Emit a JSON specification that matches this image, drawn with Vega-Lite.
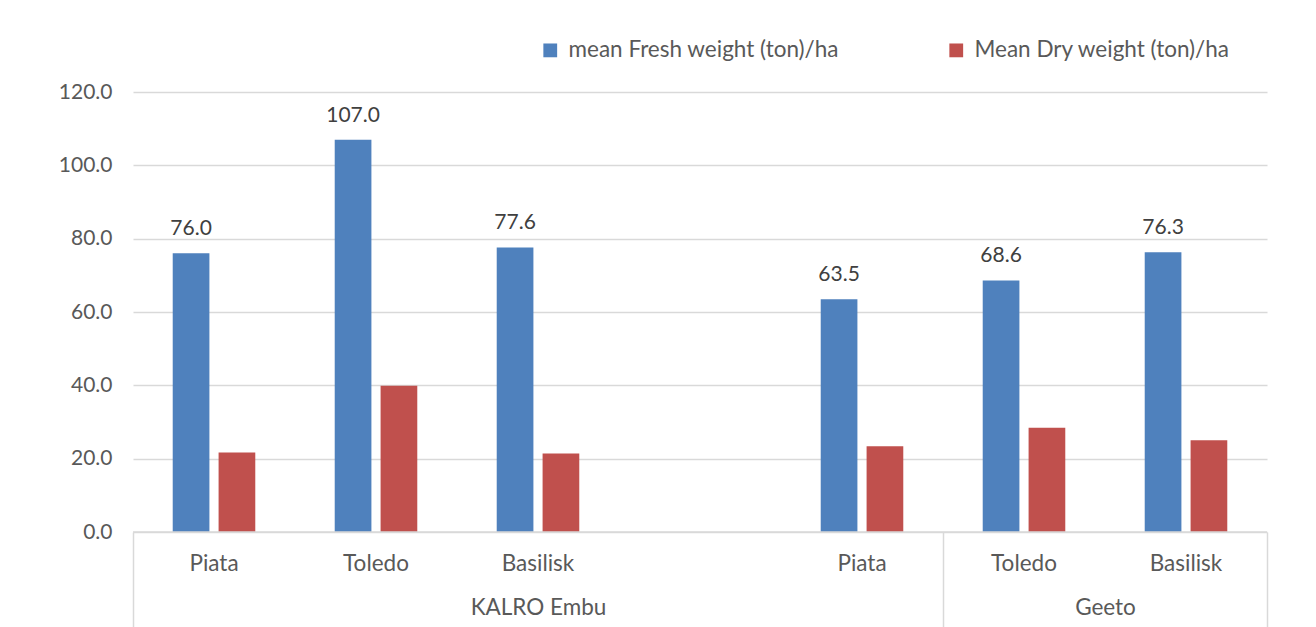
{
  "$schema": "https://vega.github.io/schema/vega-lite/v6.json",
  "width": 1134,
  "height": 440,
  "autosize": {"type": "none"},
  "padding": {"left": 133, "top": 92, "right": 49, "bottom": 95},
  "background": "white",
  "config": {
    "font": "Lato",
    "view": {"stroke": null},
    "axis": {"labelFont": "Lato", "labelColor": "#595959", "labelFontSize": 21}
  },
  "datasets": {
    "bars": [
      {"slot": "1|Piata", "series": "mean Fresh weight (ton)/ha", "value": 76.0},
      {"slot": "1|Piata", "series": "Mean Dry weight (ton)/ha", "value": 21.7},
      {"slot": "2|Toledo", "series": "mean Fresh weight (ton)/ha", "value": 107.0},
      {"slot": "2|Toledo", "series": "Mean Dry weight (ton)/ha", "value": 39.9},
      {"slot": "3|Basilisk", "series": "mean Fresh weight (ton)/ha", "value": 77.6},
      {"slot": "3|Basilisk", "series": "Mean Dry weight (ton)/ha", "value": 21.4},
      {"slot": "5|Piata", "series": "mean Fresh weight (ton)/ha", "value": 63.5},
      {"slot": "5|Piata", "series": "Mean Dry weight (ton)/ha", "value": 23.4},
      {"slot": "6|Toledo", "series": "mean Fresh weight (ton)/ha", "value": 68.6},
      {"slot": "6|Toledo", "series": "Mean Dry weight (ton)/ha", "value": 28.4},
      {"slot": "7|Basilisk", "series": "mean Fresh weight (ton)/ha", "value": 76.3},
      {"slot": "7|Basilisk", "series": "Mean Dry weight (ton)/ha", "value": 25.0}
    ],
    "groups": [
      {"group": "KALRO Embu", "start": 0, "end": 5},
      {"group": "Geeto", "start": 5, "end": 7}
    ]
  },
  "layer": [
    {
      "data": {"name": "bars"},
      "encoding": {
        "x": {
          "field": "slot", "type": "nominal",
          "scale": {"domain": ["1|Piata", "2|Toledo", "3|Basilisk", "4|", "5|Piata", "6|Toledo", "7|Basilisk"], "paddingInner": 0, "paddingOuter": 0},
          "axis": {"orient": "bottom", "title": null, "labelAngle": 0, "labelExpr": "split(datum.label, '|')[1]", "ticks": false, "tickSize": 0, "domain": false, "labelPadding": 31, "labelBaseline": "middle", "labelFontSize": 22.5, "grid": false}
        },
        "xOffset": {
          "field": "series", "type": "nominal",
          "scale": {"domain": ["mean Fresh weight (ton)/ha", "Mean Dry weight (ton)/ha"], "paddingInner": 0.2, "paddingOuter": 0.866}
        },
        "y": {
          "field": "value", "type": "quantitative",
          "scale": {"domain": [0, 120], "nice": false},
          "axis": {"title": null, "values": [0, 20, 40, 60, 80, 100, 120], "format": ".1f", "domain": false, "ticks": false, "tickSize": 0, "labelPadding": 21, "gridColor": "#d9d9d9", "gridWidth": 1.5}
        }
      },
      "layer": [
        {
          "mark": {"type": "bar"},
          "encoding": {
            "color": {
              "field": "series", "type": "nominal",
              "scale": {"domain": ["mean Fresh weight (ton)/ha", "Mean Dry weight (ton)/ha"], "range": ["#4f81bd", "#c0504d"]},
              "legend": {
                "title": null, "orient": "none", "legendX": 406, "legendY": -53,
                "direction": "horizontal", "symbolType": "square", "symbolSize": 190,
                "symbolStrokeWidth": 0, "labelFont": "Lato", "labelFontSize": 22.5, "labelColor": "#595959",
                "labelOffset": 7, "columnPadding": 106, "padding": 0, "labelLimit": 400
              }
            }
          }
        },
        {
          "transform": [{"filter": "datum.series == 'mean Fresh weight (ton)/ha'"}],
          "mark": {"type": "text", "font": "Lato", "fontSize": 21, "color": "#404040", "baseline": "alphabetic", "dy": -18},
          "encoding": {
            "text": {"field": "value", "type": "quantitative", "format": ".1f"}
          }
        }
      ]
    },
    {
      "data": {"name": "groups"},
      "mark": {"type": "rule", "color": "#d9d9d9", "strokeWidth": 1.5},
      "encoding": {
        "x": {
          "field": "start", "type": "quantitative",
          "scale": {"domain": [0, 7], "nice": false, "zero": false},
          "axis": {
            "orient": "bottom", "title": null, "grid": false, "domain": false,
            "values": [0, 2.5, 5, 6, 7],
            "labelExpr": "datum.value == 2.5 ? 'KALRO Embu' : (datum.value == 6 ? 'Geeto' : '')",
            "ticks": true, "tickSize": 100, "tickWidth": 1.5, "tickColor": "#d9d9d9",
            "tickOpacity": {"condition": {"test": "datum.value == 2.5 || datum.value == 6", "value": 0}, "value": 1},
            "labelPadding": -25, "labelBaseline": "middle", "labelFlush": false, "labelOverlap": false,
            "labelFontSize": 22.5
          }
        },
        "x2": {"field": "end"},
        "y": {"datum": 0}
      }
    }
  ],
  "resolve": {"scale": {"x": "independent"}, "axis": {"x": "independent"}}
}
